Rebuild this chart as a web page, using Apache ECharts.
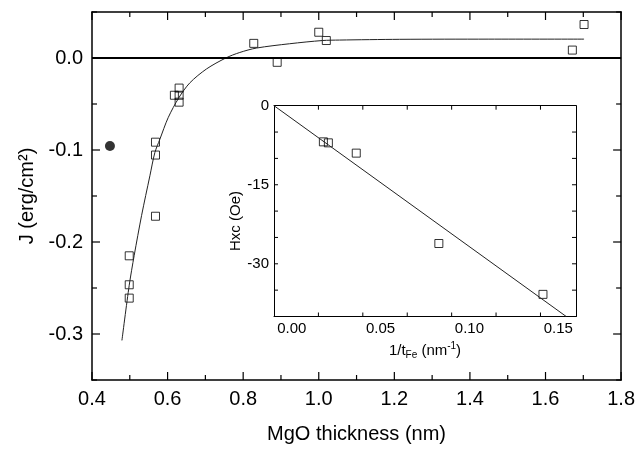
<!DOCTYPE html>
<html><head><meta charset="utf-8">
<script src="https://cdn.jsdelivr.net/npm/echarts@6/dist/echarts.min.js"></script>
<style>html,body{margin:0;padding:0;background:#fff}#c{width:638px;height:449px}</style>
</head><body><div id="c"></div>
<script>
// Main plot: exchange coupling J vs MgO thickness
const mgoThickness = [0.4985,0.4985,0.4985,0.568,0.568,0.568,0.618,0.6305,0.6305,0.6305,0.828,0.890,1.0,1.02,1.671,1.702];
const couplingJ    = [-0.215,-0.2465,-0.261,-0.172,-0.0915,-0.1055,-0.0405,-0.0327,-0.0405,-0.048,0.0159,-0.0047,0.028,0.019,0.0086,0.0364];
const dotThickness = [0.4475];
const dotJ         = [-0.0957];
const fitThickness = [0.4792,0.4985,0.5117,0.5313,0.5532,0.5664,0.5796,0.6015,0.6298,0.6589,0.703,0.754,0.791,0.835,0.923,1.01,1.055,1.214,1.45,1.702];
const fitJ         = [-0.307,-0.247,-0.2145,-0.171,-0.128,-0.1027,-0.0883,-0.0649,-0.0432,-0.027,-0.0119,0,0.006,0.0108,0.0155,0.019,0.0195,0.0203,0.0205,0.0205];

// Inset: Hxc vs 1/tFe
const invTFe   = [0.0178,0.0206,0.0363,0.0828,0.1414];
const hxc      = [-6.86,-7.05,-9.0,-26.15,-35.8];
const insetFitX = [-0.01,0.1545];
const insetFitY = [0,-40];

// Axis ranges
const mainXRange  = [0.4, 1.8];
const mainYRange  = [-0.35, 0.05];
const insetXRange = [-0.01, 0.16];
const insetYRange = [-40, 0];

// Tick / label positions
const mainXMajor = [0.4,0.6,0.8,1.0,1.2,1.4,1.6,1.8];
const mainXMinor = [0.5,0.7,0.9,1.1,1.3,1.5,1.7];
const mainYMajor = [-0.3,-0.2,-0.1,0.0];
const mainYMinor = [-0.35,-0.25,-0.15,-0.05,0.05];
const insetXLabels = [0.0,0.05,0.10,0.15];
const insetXTicks  = [0.015,0.04,0.065,0.09,0.115,0.14];
const insetYTicks  = [-35,-30,-25,-20,-15,-10,-5];

const zip = (a,b) => a.map((v,i)=>[v,b[i]]);
const FONT = 'Liberation Sans, Arial, sans-serif';
const BLK = '#000';

// inward tick marks, placed through the axes' own scales (api.coord)
function frameTicks(xs, ys, xr, yr, len){
  const out = [];
  xs.forEach(v=>{ out.push([v, yr[0], 0, -len]); out.push([v, yr[1], 0, len]); });
  ys.forEach(v=>{ out.push([xr[0], v, len, 0]); out.push([xr[1], v, -len, 0]); });
  return out;
}
function tickSeries(xi, yi, items, width){
  return {type:'custom', xAxisIndex:xi, yAxisIndex:yi, silent:true, clip:false, z:10,
    data:items,
    renderItem:(params, api)=>{
      const p = api.coord([api.value(0), api.value(1)]);
      const dx = api.value(2), dy = api.value(3);
      return {type:'line', shape:{x1:p[0], y1:p[1], x2:p[0]+dx, y2:p[1]+dy},
              style:{stroke:BLK, lineWidth:width}};
    }};
}

const chart = echarts.init(document.getElementById('c'), null, {renderer:'canvas'});

const mainLine = {show:true, onZero:false, lineStyle:{color:BLK, width:1.5}};
const insetLine = {show:true, onZero:false, lineStyle:{color:BLK, width:1}};
const noTick = {show:false};
const noMinor = {show:false};

chart.setOption({
  animation:false,
  backgroundColor:'#fff',
  grid:[
    {left:92, top:12, right:16, bottom:67, show:false},
    {left:274, top:105.7, width:302, height:210.8, show:false}
  ],
  xAxis:[
    {gridIndex:0, type:'value', position:'bottom', min:mainXRange[0], max:mainXRange[1], interval:0.2,
     axisLine:mainLine, axisTick:noTick, minorTick:noMinor,
     splitLine:{show:false}, minorSplitLine:{show:false},
     axisLabel:{show:true, margin:9, color:BLK, fontSize:20, fontFamily:FONT, formatter:v=>v.toFixed(1)},
     name:'MgO thickness (nm)', nameLocation:'middle', nameGap:44,
     nameTextStyle:{color:BLK, fontSize:20, fontFamily:FONT}},
    {gridIndex:0, type:'value', position:'top', min:mainXRange[0], max:mainXRange[1], interval:0.2,
     axisLine:mainLine, axisTick:noTick, minorTick:noMinor,
     splitLine:{show:false}, axisLabel:{show:false}},
    {gridIndex:1, type:'value', position:'bottom', min:insetXRange[0], max:insetXRange[1],
     axisLine:insetLine, axisTick:noTick,
     splitLine:{show:false},
     axisLabel:{show:true, margin:5, color:BLK, fontSize:15, fontFamily:FONT, customValues:insetXLabels, formatter:v=>v.toFixed(2)},
     name:'1/t{sub|Fe} (nm{sup|-1})', nameLocation:'middle', nameGap:25,
     nameTextStyle:{color:BLK, fontSize:15, fontFamily:FONT,
       rich:{sub:{fontSize:10, fontFamily:FONT, color:BLK, padding:[9,0,0,0]},
             sup:{fontSize:10, fontFamily:FONT, color:BLK, padding:[0,0,9,0]}}}},
    {gridIndex:1, type:'value', position:'top', min:insetXRange[0], max:insetXRange[1],
     axisLine:insetLine, axisTick:noTick,
     splitLine:{show:false}, axisLabel:{show:false}}
  ],
  yAxis:[
    {gridIndex:0, type:'value', position:'left', min:mainYRange[0], max:mainYRange[1],
     axisLine:mainLine, axisTick:noTick,
     splitLine:{show:false},
     axisLabel:{show:true, margin:9, color:BLK, fontSize:20, fontFamily:FONT, customValues:mainYMajor, formatter:v=>v.toFixed(1)},
     name:'J (erg/cm²)', nameLocation:'middle', nameGap:52,
     nameTextStyle:{color:BLK, fontSize:20, fontFamily:FONT}},
    {gridIndex:0, type:'value', position:'right', min:mainYRange[0], max:mainYRange[1],
     axisLine:mainLine, axisTick:noTick,
     splitLine:{show:false}, axisLabel:{show:false}},
    {gridIndex:1, type:'value', position:'left', min:insetYRange[0], max:insetYRange[1], interval:5,
     axisLine:insetLine, axisTick:noTick,
     splitLine:{show:false},
     axisLabel:{show:true, margin:5, color:BLK, fontSize:15, fontFamily:FONT,
       formatter:v=>{const r=Math.round(v); return (r%15===0) ? String(r) : '';}}},
    {gridIndex:1, type:'value', position:'right', min:insetYRange[0], max:insetYRange[1], interval:5,
     axisLine:insetLine, axisTick:noTick,
     splitLine:{show:false}, axisLabel:{show:false}}
  ],
  graphic:[
    {type:'text', x:236, y:221, rotation:Math.PI/2, z:100,
     style:{text:'Hxc (Oe)', fill:BLK, font:'15px '+FONT, textAlign:'center', textVerticalAlign:'middle'}}
  ],
  series:[
    {type:'line', xAxisIndex:0, yAxisIndex:0, data:zip(fitThickness,fitJ),
     smooth:0.3, showSymbol:false, symbol:'none',
     lineStyle:{color:'#222', width:1},
     markLine:{silent:true, symbol:'none', label:{show:false},
       lineStyle:{color:BLK, width:1.8, type:'solid'}, data:[{yAxis:0}]}},
    {type:'scatter', xAxisIndex:0, yAxisIndex:0, data:zip(mgoThickness,couplingJ),
     symbol:'rect', symbolSize:8,
     itemStyle:{color:'rgba(255,255,255,0)', borderColor:BLK, borderWidth:1}},
    {type:'scatter', xAxisIndex:0, yAxisIndex:0, data:zip(dotThickness,dotJ),
     symbol:'circle', symbolSize:10, itemStyle:{color:BLK}},
    {type:'line', xAxisIndex:2, yAxisIndex:2, data:zip(insetFitX,insetFitY),
     showSymbol:false, symbol:'none', lineStyle:{color:'#222', width:1}},
    {type:'scatter', xAxisIndex:2, yAxisIndex:2, data:zip(invTFe,hxc),
     symbol:'rect', symbolSize:8,
     itemStyle:{color:'rgba(255,255,255,0)', borderColor:BLK, borderWidth:1}},
    tickSeries(0, 0, frameTicks(mainXMajor, mainYMajor, mainXRange, mainYRange, 8), 1.2),
    tickSeries(0, 0, frameTicks(mainXMinor, mainYMinor, mainXRange, mainYRange, 5), 1.2),
    tickSeries(2, 2, frameTicks(insetXTicks, insetYTicks, insetXRange, insetYRange, 4), 1)
  ]
});
</script></body></html>
